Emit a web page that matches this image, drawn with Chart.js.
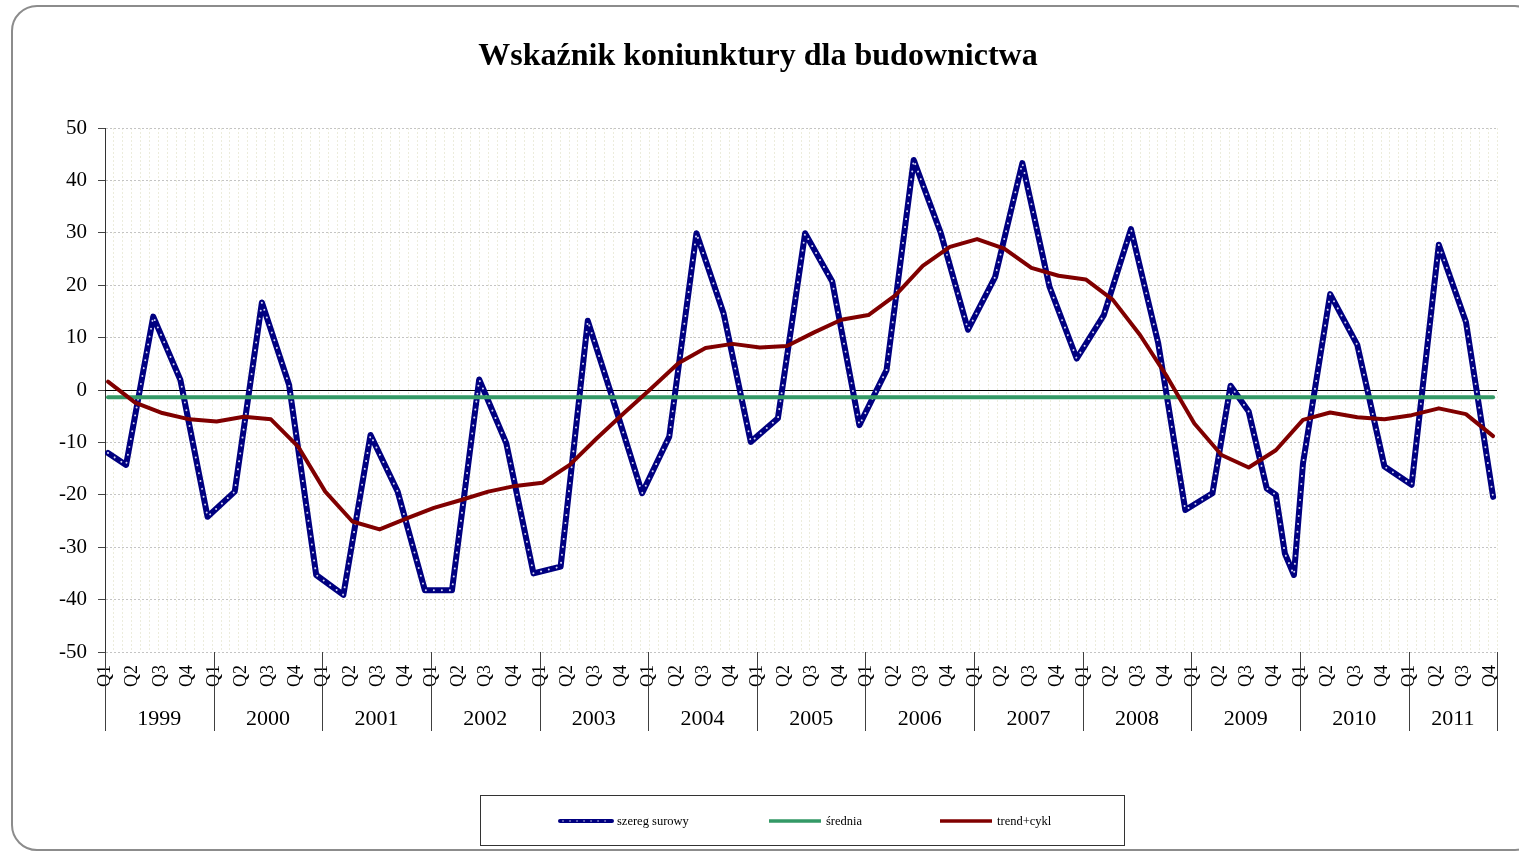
<!DOCTYPE html>
<html lang="pl">
<head>
<meta charset="utf-8">
<title>Wskaźnik koniunktury dla budownictwa</title>
<script src="https://cdn.jsdelivr.net/npm/chart.js@4.4.1/dist/chart.umd.min.js"></script>
<style>
  html, body { margin: 0; padding: 0; background: #fff; overflow: hidden; }
  #frame { position: absolute; left: 11px; top: 5px; width: 1530px; height: 846px;
           border: 2px solid #8c8c8c; border-radius: 26px; box-sizing: border-box; }
  #wrap { position: absolute; left: 0; top: 0; width: 1519px; height: 851px; }
</style>
</head>
<body>
<div id="frame"></div>
<div id="wrap"><canvas id="chart"></canvas></div>
<script>
const SERIF = '"Liberation Serif", "Times New Roman", serif';
const TITLE = 'Wskaźnik koniunktury dla budownictwa';

const years = ['1999', '2000', '2001', '2002', '2003', '2004', '2005',
               '2006', '2007', '2008', '2009', '2010', '2011'];
const quarterNames = ['Q1', 'Q2', 'Q3', 'Q4'];

// szereg surowy - miesiac liczony od I 1999 (0) i wartosc
const rawMonths = [0, 2, 5, 8, 11, 14, 17, 20, 23, 26, 29, 32, 35, 38, 41, 44, 47, 50,
                   53, 56, 59, 62, 65, 68, 71, 74, 77, 80, 83, 86, 89, 92, 95, 98, 101,
                   104, 107, 110, 113, 116, 119, 122, 124, 126, 128, 129, 130, 131, 132,
                   135, 138, 141, 144, 147, 150, 153];
const rawValues = [-12.0, -14.3, 14.0, 1.9, -24.2, -19.4, 16.7, 1.0, -35.3, -39.1, -8.6,
                   -19.4, -38.2, -38.2, 2.0, -10.2, -35.0, -33.7, 13.2, -3.0, -19.7, -8.9,
                   29.9, 14.6, -9.9, -5.4, 29.9, 20.7, -6.7, 3.8, 43.9, 29.9, 11.5, 21.6,
                   43.3, 19.7, 6.0, 14.3, 30.7, 9.0, -22.9, -19.7, 0.8, -4.1, -18.8, -20.0,
                   -31.2, -35.3, -14.0, 18.3, 8.6, -14.6, -18.1, 27.7, 13.0, -20.4];

// trend+cykl - kwartalnie od Q1 1999
const trendValues = [1.6, -2.4, -4.4, -5.6, -6.0, -5.1, -5.6, -10.8, -19.4, -25.1, -26.6,
                     -24.5, -22.5, -21.0, -19.4, -18.3, -17.7, -14.3, -9.2, -4.4, 0.3, 5.1,
                     8.0, 8.8, 8.1, 8.4, 11.0, 13.4, 14.3, 18.1, 23.7, 27.3, 28.8, 27.0,
                     23.3, 21.8, 21.1, 17.2, 10.5, 2.5, -6.4, -12.4, -14.8, -11.5, -5.7,
                     -4.3, -5.2, -5.6, -4.8, -3.5, -4.6, -8.8];

const average = -1.4;   // srednia

const X_MIN = -0.33;
const X_MAX = 153.43;

const rawData = rawMonths.map((m, i) => ({ x: m, y: rawValues[i] }));
const trendData = trendValues.map((v, i) => ({ x: i * 3, y: v }));
const avgData = [{ x: 0, y: average }, { x: (trendValues.length - 1) * 3, y: average }];

// pionowe linie siatki co miesiac
const monthGrid = [];
for (let k = 1; k <= 156; k++) monthGrid.push(X_MIN + k * (X_MAX - X_MIN) / 156);

const NAVY = '#000080';
const GREEN = '#339966';
const DARKRED = '#800000';

const zeroLine = {
  id: 'zeroLine',
  beforeDatasetsDraw(chart) {
    const { ctx, chartArea, scales } = chart;
    const y = Math.round(scales.y.getPixelForValue(0)) + 0.5;
    ctx.save();
    ctx.strokeStyle = '#000';
    ctx.lineWidth = 1;
    ctx.beginPath();
    ctx.moveTo(chartArea.left, y);
    ctx.lineTo(chartArea.right, y);
    ctx.stroke();
    ctx.restore();
  }
};

function drawRawSample(ctx, x1, x2, y) {
  ctx.lineCap = 'round';
  ctx.strokeStyle = NAVY;
  ctx.lineWidth = 4;
  ctx.beginPath(); ctx.moveTo(x1, y); ctx.lineTo(x2, y); ctx.stroke();
  ctx.strokeStyle = 'rgba(235,235,255,0.9)';
  ctx.lineWidth = 1.5;
  ctx.setLineDash([0.01, 7]);
  ctx.beginPath(); ctx.moveTo(x1 + 3, y); ctx.lineTo(x2, y); ctx.stroke();
  ctx.setLineDash([]);
}

const decorations = {
  id: 'decorations',
  afterDraw(chart) {
    const { ctx, chartArea, scales } = chart;
    const xs = scales.x;
    ctx.save();

    // tytul
    ctx.fillStyle = '#000';
    ctx.font = 'bold 32px ' + SERIF;
    ctx.textAlign = 'center';
    ctx.textBaseline = 'middle';
    ctx.fillText(TITLE, 758, 57);

    // etykiety kwartalow
    ctx.font = '18px ' + SERIF;
    trendValues.forEach((v, i) => {
      const x = xs.getPixelForValue(i * 3) - 2.5;
      ctx.save();
      ctx.translate(x, 676);
      ctx.rotate(-Math.PI / 2);
      ctx.fillText(quarterNames[i % 4], 0, 0);
      ctx.restore();
    });

    // lata i separatory
    const bounds = years.map((y, k) => xs.getPixelForValue(k * 12) - 3);
    bounds[0] = chartArea.left;
    bounds.push(chartArea.right);
    ctx.strokeStyle = '#404040';
    ctx.lineWidth = 1;
    bounds.forEach(b => {
      const x = Math.round(b) + 0.5;
      ctx.beginPath();
      ctx.moveTo(x, chartArea.bottom);
      ctx.lineTo(x, 731);
      ctx.stroke();
    });
    ctx.font = '22px ' + SERIF;
    years.forEach((y, k) => {
      ctx.fillText(y, (bounds[k] + bounds[k + 1]) / 2, 719);
    });

    // legenda
    ctx.strokeStyle = '#333';
    ctx.lineWidth = 1;
    ctx.strokeRect(480.5, 795.5, 644, 50);
    const ly = 821;
    drawRawSample(ctx, 560, 612, ly);
    ctx.lineCap = 'butt';
    ctx.lineWidth = 3.5;
    ctx.strokeStyle = GREEN;
    ctx.beginPath(); ctx.moveTo(769, ly); ctx.lineTo(821, ly); ctx.stroke();
    ctx.strokeStyle = DARKRED;
    ctx.beginPath(); ctx.moveTo(940, ly); ctx.lineTo(992, ly); ctx.stroke();
    ctx.fillStyle = '#000';
    ctx.font = '12.5px ' + SERIF;
    ctx.textAlign = 'left';
    ctx.fillText('szereg surowy', 617, ly + 1);
    ctx.fillText('średnia', 826, ly + 1);
    ctx.fillText('trend+cykl', 997, ly + 1);

    ctx.restore();
  }
};

new Chart(document.getElementById('chart'), {
  type: 'line',
  data: {
    datasets: [
      { label: 'szereg surowy', data: rawData, borderColor: NAVY, borderWidth: 6,
        borderJoinStyle: 'round', borderCapStyle: 'round', order: 4 },
      { label: 'szereg surowy (kropki)', data: rawData, borderColor: 'rgba(235,235,255,0.9)',
        borderWidth: 2, borderDash: [0.01, 8], borderCapStyle: 'round',
        borderJoinStyle: 'round', order: 3 },
      { label: 'średnia', data: avgData, borderColor: GREEN, borderWidth: 4,
        borderCapStyle: 'round', order: 2 },
      { label: 'trend+cykl', data: trendData, borderColor: DARKRED, borderWidth: 4,
        borderJoinStyle: 'round', borderCapStyle: 'round', order: 1 }
    ]
  },
  options: {
    responsive: true,
    maintainAspectRatio: false,
    animation: false,
    layout: { padding: { left: 0, right: 22, top: 128, bottom: 199 } },
    elements: { point: { radius: 0 }, line: { tension: 0 } },
    plugins: {
      legend: { display: false },
      title: { display: false },
      tooltip: { enabled: false }
    },
    scales: {
      x: {
        type: 'linear',
        min: X_MIN,
        max: X_MAX,
        afterBuildTicks: s => { s.ticks = monthGrid.map(v => ({ value: v })); },
        afterFit: s => { s.height = 0; },
        ticks: { display: false },
        grid: { color: '#ececdc', lineWidth: 1, drawTicks: false },
        border: { display: false, dash: [2, 2] }
      },
      y: {
        min: -50,
        max: 50,
        afterFit: s => { s.width = 105; },
        ticks: { stepSize: 10, color: '#000', padding: 11, font: { family: SERIF, size: 21 } },
        grid: { color: '#c4c4c4', lineWidth: 1, tickLength: 7, tickColor: '#444',
                tickBorderDash: [] },
        border: { display: true, color: '#333', width: 1, dash: [2, 2] }
      }
    }
  },
  plugins: [zeroLine, decorations]
});
</script>
</body>
</html>
